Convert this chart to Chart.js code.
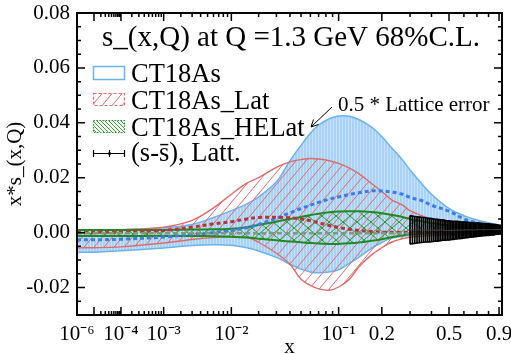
<!DOCTYPE html>
<html><head><meta charset="utf-8">
<script src="https://cdn.jsdelivr.net/npm/chart.js@4.4.1/dist/chart.umd.min.js"></script>
<style>html,body{margin:0;padding:0;background:#fff;}canvas{display:block;}</style>
</head><body>
<canvas id="c" width="511" height="354"></canvas>
<script>
// ---------------- data ----------------
const xGrid = [1e-6, 1e-5, 1e-4, 1e-3, 3e-3, 6e-3, 0.01, 0.015, 0.02, 0.03, 0.04, 0.05, 0.06, 0.07, 0.085, 0.1, 0.12, 0.14, 0.17, 0.2, 0.23, 0.27, 0.3, 0.35, 0.4, 0.5, 0.6, 0.7, 0.8, 0.93];

const ct18asUp  = [0.0009,0.0009,0.0010,0.0018,0.0030,0.0055,0.0080,0.0105,0.0130,0.0185,0.0262,0.0318,0.0362,0.0392,0.0415,0.0425,0.0424,0.0412,0.0385,0.0350,0.0310,0.0265,0.0228,0.0180,0.0140,0.0088,0.0062,0.0046,0.0036,0.0025];
const ct18asLo  = [-0.0072,-0.0071,-0.0066,-0.0056,-0.0047,-0.0044,-0.0046,-0.0055,-0.0067,-0.0090,-0.0115,-0.0133,-0.0143,-0.0146,-0.0143,-0.0135,-0.0112,-0.0090,-0.0058,-0.0036,-0.0021,-0.0014,-0.0011,-0.0007,-0.0004,-0.0001,0.0001,0.0002,0.0003,0.0004];
const ct18asC   = [-0.0026,-0.0026,-0.0024,-0.0016,-0.0006,0.0000,0.0008,0.0018,0.0030,0.0052,0.0072,0.0088,0.0100,0.0110,0.0122,0.0130,0.0139,0.0145,0.0152,0.0152,0.0148,0.0140,0.0128,0.0117,0.0100,0.0078,0.0050,0.0036,0.0027,0.0017];

const latUp = [0.0010,0.0010,0.0011,0.0020,0.0045,0.0090,0.0140,0.0180,0.0200,0.0238,0.0258,0.0266,0.0270,0.0268,0.0262,0.0252,0.0235,0.0215,0.0180,0.0150,0.0120,0.0100,0.0080,0.0062,0.0050,0.0036,0.0028,0.0022,0.0017,0.0012];
const latLo = [-0.0055,-0.0055,-0.0052,-0.0038,-0.0025,-0.0018,-0.0015,-0.0017,-0.0035,-0.0075,-0.0115,-0.0170,-0.0192,-0.0205,-0.0210,-0.0198,-0.0170,-0.0125,-0.0082,-0.0055,-0.0035,-0.0022,-0.0017,-0.0013,-0.0011,-0.0008,-0.0006,-0.0005,-0.0004,-0.0003];
const latC  = [0.0001,0.0001,0.0002,0.0008,0.0020,0.0032,0.0040,0.0050,0.0055,0.0056,0.0054,0.0050,0.0043,0.0036,0.0026,0.0019,0.0012,0.0008,0.0004,0.0002,0.0001,0.0001,0.0001,0.0001,0.0001,0.0001,0.0001,0.0001,0.0001,0.0001];

const heUp = [0.0010,0.0010,0.0010,0.0010,0.0011,0.0012,0.0014,0.0020,0.0028,0.0040,0.0050,0.0057,0.0064,0.0069,0.0074,0.0077,0.0078,0.0078,0.0075,0.0071,0.0065,0.0057,0.0050,0.0042,0.0035,0.0025,0.0018,0.0014,0.0012,0.0010];
const heLo = [-0.0012,-0.0012,-0.0012,-0.0012,-0.0012,-0.0013,-0.0015,-0.0018,-0.0022,-0.0028,-0.0032,-0.0035,-0.0038,-0.0040,-0.0041,-0.0041,-0.0039,-0.0036,-0.0030,-0.0024,-0.0017,-0.0010,-0.0006,-0.0003,-0.0002,-0.0002,-0.0002,-0.0002,-0.0002,-0.0002];
const heC  = [-0.0002,-0.0002,-0.0002,-0.0002,-0.0002,-0.0002,-0.0002,-0.0002,-0.0002,-0.0002,-0.0002,-0.0002,-0.0002,-0.0002,-0.0002,-0.0002,-0.0002,-0.0002,-0.0002,-0.0002,-0.0002,-0.0002,-0.0002,-0.0002,-0.0002,-0.0002,-0.0002,-0.0002,-0.0002,-0.0002];

// lattice (s - sbar), plotted with 0.5 * lattice error
const lattX = [0.30,0.31,0.32,0.33,0.34,0.35,0.36,0.37,0.38,0.39,0.40,0.41,0.42,0.43,0.44,0.45,0.46,0.47,0.48,0.49,0.50,0.51,0.52,0.53,0.54,0.55,0.56,0.57,0.58,0.59,0.60,0.61,0.62,0.63,0.64,0.65,0.66,0.67,0.68,0.69,0.70,0.71,0.72,0.73,0.74,0.75,0.76,0.77,0.78,0.79,0.80,0.81,0.82,0.83,0.84,0.85,0.86,0.87,0.88,0.89,0.90,0.91,0.92];
const lattC = [0.0010,0.0010,0.0010,0.0010,0.0010,0.0010,0.0010,0.0010,
               0.0009,0.0009,0.0009,0.0009,0.0009,0.0009,0.0009,0.0009,0.0009,0.0009,
               0.0008,0.0008,0.0008,0.0008,0.0008,0.0008,
               0.0009,0.0009,0.0009,0.0009,0.0009,0.0009,
               0.0010,0.0010,0.0010,0.0010,0.0010,0.0010,0.0010,0.0010,0.0010,0.0010,
               0.0011,0.0011,0.0011,0.0011,0.0011,0.0011,0.0011,0.0011,0.0011,0.0011,0.0011,0.0011,0.0011,0.0011,0.0011,0.0011,0.0011,0.0011,0.0011,0.0011,0.0011,0.0011,0.0011];
const lattE = [0.0051,0.0050,0.0049,0.0048,0.0047,0.0046,0.0045,0.0044,0.0043,0.0043,
               0.0042,0.0041,0.0040,0.0040,0.0039,0.0038,0.0037,0.0037,0.0036,0.0035,
               0.0035,0.0034,0.0033,0.0033,0.0032,0.0032,0.0031,0.0031,0.0030,0.0030,
               0.0029,0.0029,0.0028,0.0028,0.0027,0.0027,0.0026,0.0026,0.0025,0.0025,
               0.0025,0.0024,0.0024,0.0023,0.0023,0.0022,0.0022,0.0022,0.0021,0.0021,
               0.0021,0.0020,0.0020,0.0019,0.0019,0.0019,0.0018,0.0018,0.0017,0.0017,
               0.0016,0.0016,0.0015];

// axes
const X_MIN = 1e-6, X_MAX = 0.93;
const xTickVals = [1e-6, 1e-4, 1e-3, 1e-2, 0.1, 0.2, 0.5, 0.9];
const xTickLabels = ['10\u207B\u2076','10\u207B\u2074','10\u207B\u00B3','10\u207B\u00B2','10\u207B\u00B9','0.2','0.5','0.9'];
const xMajorMarks = [1e-5, 1e-4, 1e-3, 1e-2, 0.1, 0.2, 0.5, 0.9];
const xMinorMarks = [2e-5,3e-5,4e-5,5e-5,6e-5,7e-5,8e-5,9e-5,2e-4,3e-4,4e-4,5e-4,6e-4,7e-4,8e-4,9e-4,2e-3,3e-3,4e-3,5e-3,6e-3,7e-3,8e-3,9e-3,0.02,0.03,0.04,0.05,0.06,0.07,0.08,0.09,0.3,0.4,0.6,0.7,0.8];
const Y_MIN = -0.03, Y_MAX = 0.08;
const yTickVals = [-0.02, 0, 0.02, 0.04, 0.06, 0.08];
const yMinorMarks = [-0.025,-0.015,-0.01,-0.005,0.005,0.01,0.015,0.025,0.03,0.035,0.045,0.05,0.055,0.065,0.07,0.075];

const TITLE = 's_(x,Q) at Q =1.3 GeV 68%C.L.';
const LEGEND = ['CT18As', 'CT18As_Lat', 'CT18As_HELat', '(s-s\u0304), Latt.'];
const NOTE = '0.5 * Lattice error';

// ---------------- styles ----------------
const SERIF = '"Liberation Serif", "Times New Roman", serif';
const BLUE_EDGE = '#6cb2ef', RED_EDGE = '#e06a6a', GREEN_EDGE = '#1f8a1f';

function pattern(w, h, draw) {
  const c = document.createElement('canvas'); c.width = w; c.height = h;
  const g = c.getContext('2d'); draw(g, w, h);
  return g.createPattern(c, 'repeat');
}
const bluePat = pattern(3, 4, (g, w, h) => { g.fillStyle = '#a8d2f8'; g.fillRect(0,0,w,h); g.fillStyle = '#c6e2fb'; g.fillRect(0,0,1,h); });
const redPat = pattern(10, 12, (g, w, h) => { g.strokeStyle = RED_EDGE; g.lineWidth = 1;
  g.beginPath(); g.moveTo(0,h); g.lineTo(w,0); g.moveTo(-w,h); g.lineTo(0,0); g.moveTo(w,h); g.lineTo(2*w,0); g.stroke(); });
const greenPat = pattern(14, 12, (g, w, h) => { g.strokeStyle = '#2a962a'; g.lineWidth = 1;
  g.beginPath();
  g.moveTo(0,h); g.lineTo(w,0); g.moveTo(-w,h); g.lineTo(0,0); g.moveTo(w,h); g.lineTo(2*w,0);
  g.moveTo(0,0); g.lineTo(w,h); g.moveTo(-w,0); g.lineTo(0,h); g.moveTo(w,0); g.lineTo(2*w,h);
  g.stroke(); });
const greenPatLeg = pattern(4, 4, (g, w, h) => { g.strokeStyle = '#3aa03a'; g.lineWidth = 1;
  g.beginPath(); g.moveTo(0,0); g.lineTo(w,h); g.moveTo(-w,0); g.lineTo(0,h); g.moveTo(w,0); g.lineTo(2*w,h); g.stroke(); });

// ---------------- x^0.2 scale ----------------
const P = v => Math.pow(v, 0.2);
class PowScale extends Chart.LinearScale {
  static id = 'pow';
  buildTicks() { return xTickVals.map(v => ({ value: v })); }
  configure() { super.configure(); this._u0 = P(this.min); this._u1 = P(this.max); }
  getPixelForValue(v) {
    if (v === null || v === undefined || isNaN(v)) return NaN;
    return this.getPixelForDecimal((P(v) - this._u0) / (this._u1 - this._u0));
  }
  getValueForPixel(p) { const d = this.getDecimalForPixel(p); return Math.pow(this._u0 + d * (this._u1 - this._u0), 5); }
}
Chart.register(PowScale);

const pts = (xs, ys) => xs.map((x, i) => ({ x, y: ys[i] }));
const line = (ys, color, width, extra) => Object.assign({
  type: 'line', data: pts(xGrid, ys), borderColor: color, borderWidth: width, pointRadius: 0,
  fill: false, tension: 0.35, cubicInterpolationMode: 'default'
}, extra || {});

const datasets = [
  line(ct18asLo, BLUE_EDGE, 1.5, { order: 99 }),
  line(ct18asUp, BLUE_EDGE, 1.5, { order: 100, fill: '-1', backgroundColor: bluePat }),
  line(latLo, RED_EDGE, 1.4, { order: 89 }),
  line(latUp, RED_EDGE, 1.4, { order: 90, fill: '-1', backgroundColor: redPat }),
  line(heLo, GREEN_EDGE, 2, { order: 79 }),
  line(heUp, GREEN_EDGE, 2, { order: 80, fill: '-1', backgroundColor: greenPat }),
  line(ct18asC, '#3d7be6', 3, { order: 70, borderDash: [4, 3] }),
  line(latC, '#b83535', 3, { order: 69, borderDash: [4, 3] }),
  line(heC, '#7f9a7f', 2.5, { order: 68, borderDash: [5, 3] }),
  { type: 'bar', data: lattX.map((x, i) => ({ x, y: [lattC[i] - lattE[i], lattC[i] + lattE[i]] })),
    backgroundColor: '#000', borderWidth: 0, barThickness: 1, order: 60 },
  { type: 'line', data: lattX.map((x, i) => ({ x, y: lattC[i] + lattE[i] })), borderColor: '#000', borderWidth: 1.6, pointRadius: 0, fill: false, order: 59 },
  { type: 'line', data: lattX.map((x, i) => ({ x, y: lattC[i] - lattE[i] })), borderColor: '#000', borderWidth: 1.6, pointRadius: 0, fill: false, order: 58 },
  { type: 'line', data: lattX.map((x, i) => ({ x, y: lattC[i] })), borderColor: '#444', borderWidth: 1, pointRadius: 0, fill: false, order: 57 }
];

// ---------------- frame, ticks, legend ----------------
const frameTicks = {
  id: 'frameTicks',
  afterDatasetsDraw(chart) {
    const { ctx, chartArea: a, scales: { x, y } } = chart;
    ctx.save();
    ctx.strokeStyle = '#000';
    ctx.lineWidth = 1.5;
    ctx.beginPath();
    const xt = (v, len) => { const p = x.getPixelForValue(v);
      ctx.moveTo(p, a.bottom); ctx.lineTo(p, a.bottom - len); ctx.moveTo(p, a.top); ctx.lineTo(p, a.top + len); };
    const yt = (v, len) => { const p = y.getPixelForValue(v);
      ctx.moveTo(a.left, p); ctx.lineTo(a.left + len, p); ctx.moveTo(a.right, p); ctx.lineTo(a.right - len, p); };
    xMajorMarks.forEach(v => xt(v, 8)); xMinorMarks.forEach(v => xt(v, 4));
    yTickVals.forEach(v => yt(v, 8)); yMinorMarks.forEach(v => yt(v, 4));
    ctx.stroke();
    ctx.lineWidth = 2;
    ctx.strokeRect(a.left, a.top, a.right - a.left, a.bottom - a.top);
    ctx.restore();
  }
};

const decor = {
  id: 'decor',
  afterDraw(chart) {
    const ctx = chart.ctx;
    ctx.save();
    ctx.fillStyle = '#000';
    ctx.textBaseline = 'alphabetic';
    ctx.textAlign = 'left';
    ctx.font = '29px ' + SERIF;
    ctx.fillText(TITLE, 102, 46);
    ctx.font = '26.5px ' + SERIF;
    const base = [81.5, 108.5, 135.5, 161];
    LEGEND.forEach((t, i) => ctx.fillText(t, 131, base[i]));
    // legend symbols
    ctx.lineWidth = 1.5;
    ctx.fillStyle = '#fff'; ctx.strokeStyle = BLUE_EDGE;
    ctx.fillRect(93.5, 66.5, 31, 13); ctx.strokeRect(93.5, 66.5, 31, 13);
    ctx.fillStyle = redPat; ctx.fillRect(93.5, 93.5, 31, 12);
    ctx.setLineDash([3, 2]); ctx.strokeStyle = RED_EDGE; ctx.lineWidth = 1.2; ctx.strokeRect(93.5, 93.5, 31, 12);
    ctx.fillStyle = greenPatLeg; ctx.fillRect(93.5, 120.5, 31, 12);
    ctx.setLineDash([1.5, 1.5]); ctx.strokeStyle = '#2a962a'; ctx.strokeRect(93.5, 120.5, 31, 12);
    ctx.setLineDash([]);
    ctx.strokeStyle = '#000'; ctx.lineWidth = 1.2;
    ctx.beginPath();
    ctx.moveTo(93, 153.5); ctx.lineTo(125, 153.5);
    [93.5, 109.5, 124.5].forEach(px => { ctx.moveTo(px, 150); ctx.lineTo(px, 157); });
    ctx.stroke();
    ctx.fillStyle = '#000'; ctx.beginPath(); ctx.arc(109.5, 153.5, 1.6, 0, Math.PI * 2); ctx.fill();
    // annotation
    ctx.font = '21px ' + SERIF;
    ctx.fillText(NOTE, 338, 111);
    ctx.lineWidth = 1;
    ctx.beginPath(); ctx.moveTo(332, 107); ctx.lineTo(311, 127);
    ctx.moveTo(311, 127); ctx.lineTo(313.5, 119.5);
    ctx.moveTo(311, 127); ctx.lineTo(318.5, 124.5);
    ctx.stroke();
    ctx.restore();
  }
};

new Chart(document.getElementById('c'), {
  type: 'line',
  data: { datasets },
  options: {
    responsive: false, animation: false, devicePixelRatio: 1,
    layout: { padding: { left: 0, right: 9, top: 13, bottom: 0 } },
    plugins: { legend: { display: false }, tooltip: { enabled: false } },
    scales: {
      x: {
        type: 'pow', min: X_MIN, max: X_MAX, offset: false,
        grid: { display: false, drawTicks: false }, border: { display: false },
        ticks: { autoSkip: false, maxRotation: 0, minRotation: 0, padding: 7, color: '#000',
                 font: { family: SERIF, size: 21 }, callback: (v, i) => xTickLabels[i] },
        title: { display: true, text: 'x', color: '#000', font: { family: SERIF, size: 21, lineHeight: 0.6 }, padding: 0 },
        afterFit: s => { s.height = 39; s.paddingLeft = 0; s.paddingRight = 0; }
      },
      y: {
        type: 'linear', min: Y_MIN, max: Y_MAX,
        grid: { display: false, drawTicks: false }, border: { display: false },
        afterBuildTicks: s => { s.ticks = yTickVals.map(v => ({ value: v })); },
        ticks: { padding: 7, color: '#000', font: { family: SERIF, size: 21 }, callback: v => v.toFixed(2) },
        title: { display: true, text: 'x*s_(x,Q)', color: '#000', font: { family: SERIF, size: 21 }, padding: { top: 3, bottom: 0 } },
        afterFit: s => { s.width = 77; s.paddingTop = 0; s.paddingBottom = 0; }
      }
    }
  },
  plugins: [frameTicks, decor]
});
</script>
</body></html>
